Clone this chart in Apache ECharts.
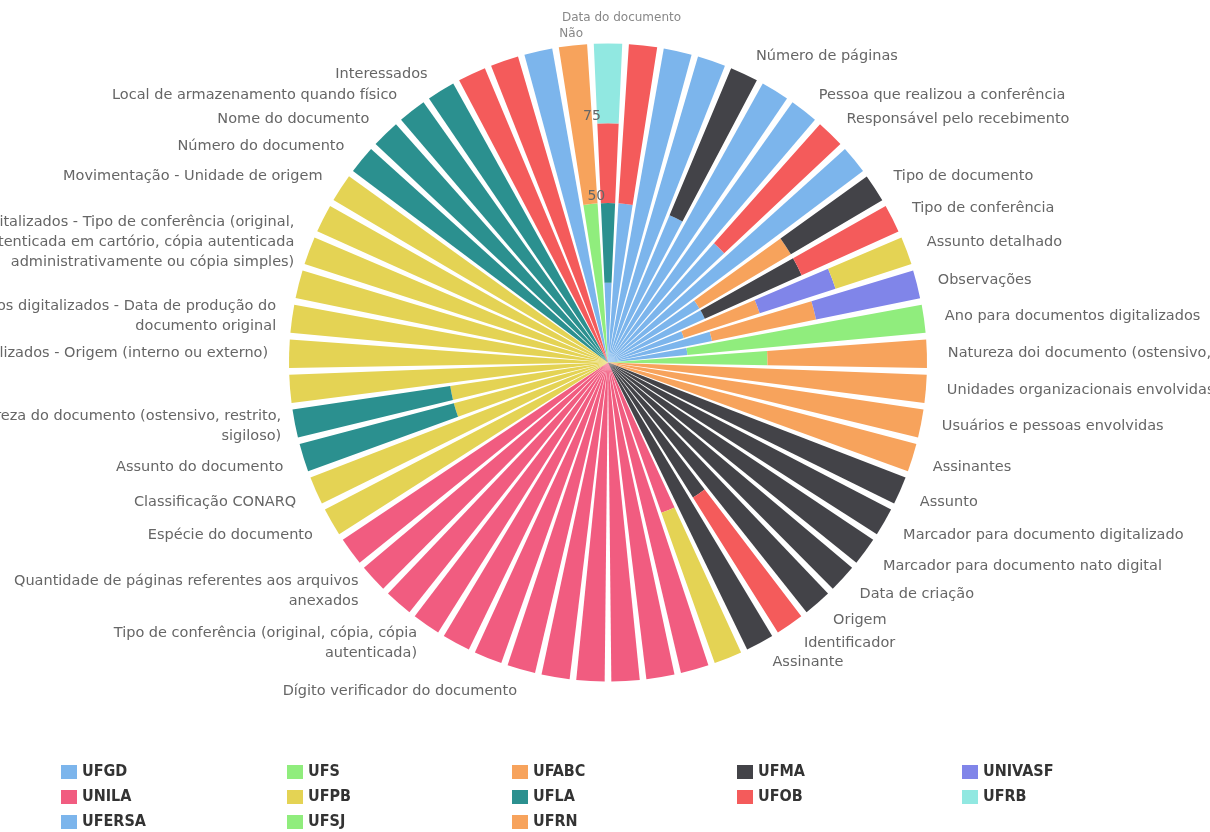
<!DOCTYPE html>
<html>
<head>
<meta charset="utf-8">
<script src="https://cdn.jsdelivr.net/npm/echarts@6/dist/echarts.min.js"></script>
<style>
html,body{margin:0;padding:0;background:#ffffff;}
#chart{width:1210px;height:832px;}
</style>
</head>
<body>
<div id="chart"></div>
<script>
// ---- categories (angle axis, clockwise from the top) ----
const categories = [
  'Data do documento', '', '', '', 'Número de páginas', '', 'Pessoa que realizou a conferência',
  'Responsável pelo recebimento', '', 'Tipo de documento', 'Tipo de conferência', 'Assunto detalhado',
  'Observações', 'Ano para documentos digitalizados', 'Natureza doi documento (ostensivo, restrito, sigiloso)',
  'Unidades organizacionais envolvidas', 'Usuários e pessoas envolvidas', 'Assinantes', 'Assunto',
  'Marcador para documento digitalizado', 'Marcador para documento nato digital', 'Data de criação',
  'Origem', 'Identificador', 'Assinante', '', '', '', '', '', '', 'Dígito verificador do documento',
  '', '', 'Tipo de conferência (original, cópia, cópia\nautenticada)', '',
  'Quantidade de páginas referentes aos arquivos\nanexados', '', 'Espécie do documento',
  'Classificação CONARQ', 'Assunto do documento', 'Natureza do documento (ostensivo, restrito,\nsigiloso)', '',
  'Para documentos digitalizados - Origem (interno ou externo)',
  'Para documentos digitalizados - Data de produção do\ndocumento original', '',
  'Para documentos digitalizados - Tipo de conferência (original,\ncópia autenticada em cartório, cópia autenticada\nadministrativamente ou cópia simples)',
  '', 'Movimentação - Unidade de origem', 'Número do documento', 'Nome do documento',
  'Local de armazenamento quando físico', 'Interessados', '', '', '', 'Não'
];

// ---- series values (percent of each category), index = category index ----
//            0     1    2    3    4    5    6    7    8    9
const UFGD   = [25,   50, 100, 100,  50, 100, 100,  50, 100, 33.3,
                33.3, 25, 33.3, 25,   0,   0,   0,   0,   0,   0,
                0,    0,   0,   0,   0,   0,   0,   0,   0,   0,
                0,    0,   0,   0,   0,   0,   0,   0,   0,   0,
                0,    0,   0,   0,   0,   0,   0,   0,   0,   0,
                0,    0,   0,   0,   0,   0,   0];
const UFERSA = [0,0,0,0,0,0,0,0,0,0, 0,0,0,0,0,0,0,0,0,0, 0,0,0,0,0,0,0,0,0,0,
                0,0,0,0,0,0,0,0,0,0, 0,0,0,0,0,0,0,0,0,0, 0,0,0,0,0,100,0];
const UFS    = [0,0,0,0,0,0,0,0,0,0, 0,0,0,75,50,0,0,0,0,0, 0,0,0,0,0,0,0,0,0,0,
                0,0,0,0,0,0,0,0,0,0, 0,0,0,0,0,0,0,0,0,0, 0,0,0,0,0,0,0];
const UFSJ   = [0,0,0,0,0,0,0,0,0,0, 0,0,0,0,0,0,0,0,0,0, 0,0,0,0,0,0,0,0,0,0,
                0,0,0,0,0,0,0,0,0,0, 0,0,0,0,0,0,0,0,0,0, 0,0,0,0,0,0,50];
const UFABC  = [0,0,0,0,0,0,0,0,0,33.3, 0,25,33.3,0,50,100,100,100,0,0, 0,0,0,0,0,0,0,0,0,0,
                0,0,0,0,0,0,0,0,0,0, 0,0,0,0,0,0,0,0,0,0, 0,0,0,0,0,0,0];
const UFRN   = [0,0,0,0,0,0,0,0,0,0, 0,0,0,0,0,0,0,0,0,0, 0,0,0,0,0,0,0,0,0,0,
                0,0,0,0,0,0,0,0,0,0, 0,0,0,0,0,0,0,0,0,0, 0,0,0,0,0,0,50];
const UFMA   = [0,0,0,0,50,0,0,0,0,33.3, 33.3,0,0,0,0,0,0,0,100,100, 100,100,100,50,100,0,0,0,0,0,
                0,0,0,0,0,0,0,0,0,0, 0,0,0,0,0,0,0,0,0,0, 0,0,0,0,0,0,0];
const UNIVASF= [0,0,0,0,0,0,0,0,0,0, 0,25,33.3,0,0,0,0,0,0,0, 0,0,0,0,0,0,0,0,0,0,
                0,0,0,0,0,0,0,0,0,0, 0,0,0,0,0,0,0,0,0,0, 0,0,0,0,0,0,0];
const UNILA  = [0,0,0,0,0,0,0,0,0,0, 0,0,0,0,0,0,0,0,0,0, 0,0,0,0,0,50,100,100,100,100,
                100,100,100,100,100,100,100,100,0,0, 0,0,0,0,0,0,0,0,0,0, 0,0,0,0,0,0,0];
const UFPB   = [0,0,0,0,0,0,0,0,0,0, 0,25,0,0,0,0,0,0,0,0, 0,0,0,0,0,50,0,0,0,0,
                0,0,0,0,0,0,0,0,100,100, 50,50,100,100,100,100,100,100,100,0, 0,0,0,0,0,0,0];
const UFLA   = [25,0,0,0,0,0,0,0,0,0, 0,0,0,0,0,0,0,0,0,0, 0,0,0,0,0,0,0,0,0,0,
                0,0,0,0,0,0,0,0,0,0, 50,50,0,0,0,0,0,0,0,100, 100,100,100,0,0,0,0];
const UFOB   = [25,50,0,0,0,0,0,50,0,0, 33.3,0,0,0,0,0,0,0,0,0, 0,0,0,50,0,0,0,0,0,0,
                0,0,0,0,0,0,0,0,0,0, 0,0,0,0,0,0,0,0,0,0, 0,0,0,100,100,0,0];
const UFRB   = [25,0,0,0,0,0,0,0,0,0, 0,0,0,0,0,0,0,0,0,0, 0,0,0,0,0,0,0,0,0,0,
                0,0,0,0,0,0,0,0,0,0, 0,0,0,0,0,0,0,0,0,0, 0,0,0,0,0,0,0];

const radiusTicks = [50, 75];

// ---- styling (kept apart from the data) ----
const seriesDefs = [
  ['UFGD', UFGD, '#7cb5ec'], ['UFERSA', UFERSA, '#7cb5ec'], ['UFS', UFS, '#90ed7d'],
  ['UFSJ', UFSJ, '#90ed7d'], ['UFABC', UFABC, '#f7a35c'], ['UFRN', UFRN, '#f7a35c'],
  ['UFMA', UFMA, '#434348'], ['UNIVASF', UNIVASF, '#8085e9'], ['UNILA', UNILA, '#f15c80'],
  ['UFPB', UFPB, '#e4d354'], ['UFLA', UFLA, '#2b908f'], ['UFOB', UFOB, '#f45b5b'],
  ['UFRB', UFRB, '#91e8e1']
];
const legendColumns = [
  ['UFGD', 'UNILA', 'UFERSA'], ['UFS', 'UFPB', 'UFSJ'], ['UFABC', 'UFLA', 'UFRN'],
  ['UFMA', 'UFOB'], ['UNIVASF', 'UFRB']
];
const legendLeft = [61, 287, 512, 737, 962];

// per-label fine placement (padding) and size
const labelTweaks = {
  0: {fontSize: 12, color: '#888', padding: [0, 0, 0, 27]},
  56: {fontSize: 12, color: '#888', padding: [0, 0, -14, 0]},
  31: {padding: [-4, 234, 0, 0]},
  34: {padding: [-15, 0, 0, 0]},
  36: {padding: [-18, 3, 0, 0]},
  41: {padding: [0, -2, -5, 0]},
  44: {padding: [-5, 0, -7, 0]},
  46: {padding: [0, 0, -27, 0]}
};

const angleData = categories.map((c, i) => labelTweaks[i] ? {value: c, textStyle: labelTweaks[i]} : c);

const chart = echarts.init(document.getElementById('chart'), null, {renderer: 'canvas'});
chart.setOption({
  animation: false,
  backgroundColor: '#ffffff',
  polar: {center: [608, 362.5], radius: [0, 319]},
  angleAxis: {
    type: 'category',
    data: angleData,
    startAngle: 90 + 180 / categories.length,
    clockwise: true,
    boundaryGap: true,
    axisLine: {show: false},
    axisTick: {show: false},
    splitLine: {show: false},
    axisLabel: {
      interval: 0, margin: 16, color: '#666', fontSize: 14.5,
      fontFamily: 'DejaVu Sans', lineHeight: 20, padding: [-5, 5, -7, 5]
    },
    z: 10
  },
  radiusAxis: {
    min: 0, max: 100, interval: 25,
    axisLine: {show: false},
    axisTick: {show: false},
    splitLine: {show: false},
    axisLabel: {
      color: '#666', fontSize: 14, fontFamily: 'DejaVu Sans',
      margin: -6, align: 'right', verticalAlign: 'bottom',
      formatter: v => radiusTicks.indexOf(v) >= 0 ? String(v) : ''
    },
    z: 10
  },
  legend: legendColumns.map((col, i) => ({
    data: col,
    orient: 'vertical',
    left: legendLeft[i],
    top: 764,
    height: 100,
    padding: 0,
    itemWidth: 16,
    itemHeight: 14,
    itemGap: 9,
    icon: 'rect',
    selectedMode: false,
    textStyle: {color: '#333', fontSize: 16, fontWeight: 'bold', lineHeight: 14,
      fontFamily: '"Liberation Sans Narrow", "DejaVu Sans Condensed", sans-serif'}
  })),
  series: seriesDefs.map(([name, values, color]) => ({
    type: 'bar',
    name: name,
    coordinateSystem: 'polar',
    stack: 'total',
    data: values,
    barCategoryGap: '19%',
    itemStyle: {color: color},
    emphasis: {disabled: true}
  }))
});
</script>
</body>
</html>
